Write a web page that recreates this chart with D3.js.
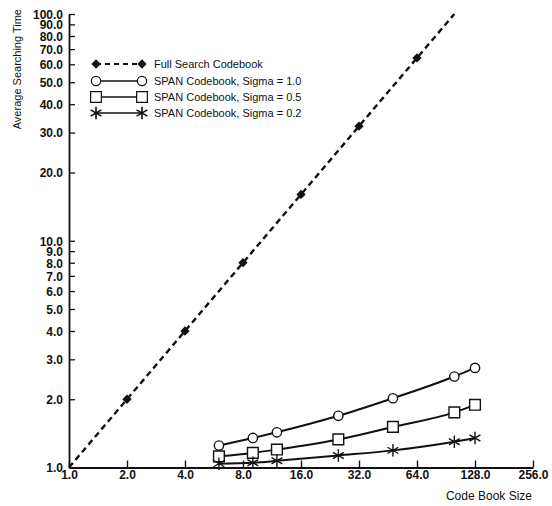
<!DOCTYPE html>
<html>
<head>
<meta charset="utf-8">
<script src="https://cdn.jsdelivr.net/npm/d3@7"></script>
<style>
  body { margin: 0; background: #fff; }
  text { font-family: "Liberation Sans", Arial, sans-serif; fill: #111; }
  .tick text { font-weight: bold; font-size: 12px; }
</style>
</head>
<body>
<div></div>
<script>
// data
const fullX = [2, 4, 8, 16, 32, 64];
const fullY = [2, 4, 8, 16, 32, 64];
const fullLine = [1, 100]; // dashed diagonal, y = x

const spanX = [6, 9, 12, 25, 48, 100, 128];
const sigma10 = [1.25, 1.35, 1.43, 1.69, 2.02, 2.52, 2.75];
const sigma05 = [1.12, 1.16, 1.20, 1.33, 1.51, 1.75, 1.89];
const sigma02 = [1.04, 1.05, 1.07, 1.13, 1.19, 1.30, 1.35];

const xTicks = [1, 2, 4, 8, 16, 32, 64, 128, 256];
const yTicks = [1, 2, 3, 4, 5, 6, 7, 8, 9, 10, 20, 30, 40, 50, 60, 70, 80, 90, 100];

const legendLabels = ['Full Search Codebook', 'SPAN Codebook, Sigma = 1.0',
  'SPAN Codebook, Sigma = 0.5', 'SPAN Codebook, Sigma = 0.2'];

document.addEventListener('DOMContentLoaded', () => {
    const w = 552;
    const h = 506;

    const svg = d3.select('div')
        .append('svg')
        .attr('width', w)
        .attr('height', h);

    const xScale = d3.scaleLog().base(2)
        .domain([1, 256])
        .range([69, 533]);

    const yScale = d3.scaleLog()
        .domain([1, 100])
        .range([467.5, 14]);

    const fmt = d3.format('.1f');

    const xAxis = d3.axisBottom(xScale)
        .tickValues(xTicks)
        .tickFormat(fmt)
        .tickSizeInner(-7)
        .tickSizeOuter(0)
        .tickPadding(3);

    const gx = svg.append('g')
        .attr('transform', 'translate(0,' + yScale(1) + ')')
        .call(xAxis);
    gx.select('.domain').attr('stroke', '#111').attr('stroke-width', 2.2);
    gx.selectAll('.tick line').attr('stroke', '#111').attr('stroke-width', 1.4);

    const yAxis = d3.axisLeft(yScale)
        .tickValues(yTicks)
        .tickFormat(fmt)
        .tickSizeInner(-6)
        .tickSizeOuter(0)
        .tickPadding(6);

    const gy = svg.append('g')
        .attr('transform', 'translate(' + xScale(1) + ',0)')
        .call(yAxis);
    gy.select('.domain').attr('stroke', '#111').attr('stroke-width', 1.8);
    gy.selectAll('.tick line').attr('stroke', '#111').attr('stroke-width', 1.3);
    gy.selectAll('.tick text').attr('dy', '0.36em');

    // axis titles
    svg.append('text')
        .attr('transform', 'translate(21,9) rotate(-90)')
        .attr('text-anchor', 'end')
        .style('font-size', '11px')
        .text('Average Searching Time');

    svg.append('text')
        .attr('x', 532)
        .attr('y', 500)
        .attr('text-anchor', 'end')
        .style('font-size', '12px')
        .text('Code Book Size');

    // full search dashed line
    const diag = d3.line()
        .x(d => xScale(d))
        .y(d => yScale(d));

    svg.append('path')
        .datum(fullLine)
        .attr('d', diag)
        .attr('fill', 'none')
        .attr('stroke', '#111')
        .attr('stroke-width', 2.4)
        .attr('stroke-dasharray', '6,4');

    const diamond = d3.symbol().type(d3.symbolDiamond2).size(55);
    svg.selectAll('.full')
        .data(fullX)
        .enter()
        .append('path')
        .attr('class', 'full')
        .attr('transform', (d, i) => 'translate(' + xScale(d) + ',' + yScale(fullY[i]) + ')')
        .attr('d', diamond)
        .attr('fill', '#111');

    // SPAN series
    const series = [
        { vals: sigma10, sym: d3.symbol().type(d3.symbolCircle).size(68) },
        { vals: sigma05, sym: d3.symbol().type(d3.symbolSquare).size(115) },
        { vals: sigma02, sym: d3.symbol().type(d3.symbolAsterisk).size(110) }
    ];

    const line = d3.line()
        .x((d, i) => xScale(spanX[i]))
        .y(d => yScale(d))
        .curve(d3.curveMonotoneX);

    series.forEach(s => {
        svg.append('path')
            .datum(s.vals)
            .attr('d', line)
            .attr('fill', 'none')
            .attr('stroke', '#111')
            .attr('stroke-width', 2);

        svg.append('g')
            .selectAll('path')
            .data(s.vals)
            .enter()
            .append('path')
            .attr('transform', (d, i) => 'translate(' + xScale(spanX[i]) + ',' + yScale(d) + ')')
            .attr('d', s.sym)
            .attr('fill', s.sym.type() === d3.symbolAsterisk ? 'none' : '#fff')
            .attr('stroke', '#111')
            .attr('stroke-width', s.sym.type() === d3.symbolAsterisk ? 1.8 : 1.4);
    });

    // legend
    const legend = svg.append('g');
    const legY = [64, 81, 97, 113];
    const legSyms = [diamond, series[0].sym, series[1].sym, series[2].sym];

    legendLabels.forEach((lab, i) => {
        const y = legY[i];
        legend.append('line')
            .attr('x1', 96).attr('x2', 142)
            .attr('y1', y).attr('y2', y)
            .attr('stroke', '#111')
            .attr('stroke-width', i === 0 ? 2.2 : 1.5)
            .attr('stroke-dasharray', i === 0 ? '5,4' : null);
        [96, 142].forEach(x => {
            legend.append('path')
                .attr('transform', 'translate(' + x + ',' + y + ')')
                .attr('d', legSyms[i])
                .attr('fill', i === 0 ? '#111' : (i === 3 ? 'none' : '#fff'))
                .attr('stroke', '#111')
                .attr('stroke-width', i === 0 ? 0 : (i === 3 ? 1.6 : 1.2));
        });
        legend.append('text')
            .attr('x', 154)
            .attr('y', y + 4)
            .style('font-size', '11px')
            .text(lab);
    });
});
</script>
</body>
</html>
